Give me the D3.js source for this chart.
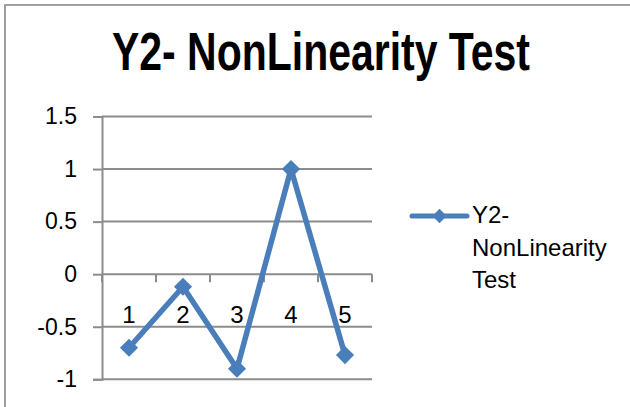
<!DOCTYPE html>
<html>
<head>
<meta charset="utf-8">
<script src="https://cdn.jsdelivr.net/npm/d3@7"></script>
<style>
  html, body { margin: 0; padding: 0; background: #fff; }
  svg { display: block; }
  text { font-family: "Liberation Sans", Arial, sans-serif; fill: #000; }
</style>
</head>
<body>
<svg id="chart" width="630" height="407"></svg>
<script>
// Series data
const categories = ["1", "2", "3", "4", "5"];
const values = [-0.7, -0.12, -0.9, 1.0, -0.77];
const yTicks = [-1, -0.5, 0, 0.5, 1, 1.5];
const seriesName = "Y2- NonLinearity Test";
const legendLines = ["Y2-", "NonLinearity", "Test"];

const svg = d3.select("#chart");
const blue = "#4a7ebb";
const grid = "#8c8c8c";

// Chart frame
svg.append("path")
  .attr("d", "M5,407 V5 H630")
  .attr("fill", "none")
  .attr("stroke", "#a0a0a0")
  .attr("stroke-width", 2);

// Title: bold, squeezed horizontally to a condensed look
const titleWidth = 418, titleCx = 321;
const titleG = svg.append("g");
const title = titleG.append("text")
  .attr("x", 0).attr("y", 0)
  .attr("text-anchor", "middle")
  .attr("font-family", "'Liberation Sans Narrow', 'Arial Narrow', 'Liberation Sans', sans-serif")
  .attr("font-weight", "bold")
  .attr("font-size", 53)
  .text(seriesName);
const natural = title.node().getComputedTextLength();
titleG.attr("transform", `translate(${titleCx},70) scale(${titleWidth / natural},1)`);

const x = d3.scaleBand().domain(categories).range([102, 372]);
const y = d3.scaleLinear().domain([-1, 1.5]).range([379.3, 116.5]);

// Value axis with left tick marks
const yAxis = svg.append("g")
  .attr("transform", "translate(102,0)")
  .call(d3.axisLeft(y).tickValues(yTicks).tickFormat(d => String(d))
    .tickSize(9).tickPadding(16));
yAxis.select(".domain").attr("stroke", grid).attr("stroke-width", 2);
yAxis.selectAll(".tick line").attr("stroke", grid).attr("stroke-width", 2);
yAxis.selectAll(".tick text").attr("font-size", 23).attr("fill", "#000")
  .attr("font-family", "'Liberation Sans', Arial, sans-serif");

// Horizontal gridlines
svg.append("g").selectAll("line")
  .data(yTicks)
  .join("line")
  .attr("x1", 102).attr("x2", 372)
  .attr("y1", d => y(d)).attr("y2", d => y(d))
  .attr("stroke", grid).attr("stroke-width", 2);

// Category axis at zero: tick marks on band edges
const xAxisY = y(0);
svg.append("g").selectAll("line")
  .data(d3.range(categories.length + 1))
  .join("line")
  .attr("x1", i => 102 + i * x.step()).attr("x2", i => 102 + i * x.step())
  .attr("y1", xAxisY).attr("y2", xAxisY + 8)
  .attr("stroke", grid).attr("stroke-width", 2);

const xAxis = svg.append("g")
  .attr("transform", `translate(0,${xAxisY})`)
  .call(d3.axisBottom(x).tickSize(0).tickPadding(32));
xAxis.select(".domain").remove();
xAxis.selectAll(".tick text").attr("font-size", 24).attr("fill", "#000")
  .attr("font-family", "'Liberation Sans', Arial, sans-serif");

// Series line and diamond markers
const line = d3.line()
  .x((d, i) => x(categories[i]) + x.bandwidth() / 2)
  .y(d => y(d));
svg.append("path")
  .datum(values)
  .attr("d", line)
  .attr("fill", "none")
  .attr("stroke", blue)
  .attr("stroke-width", 5.5)
  .attr("stroke-linejoin", "round");

const diamond = d3.symbol().type(d3.symbolDiamond2).size(210);
svg.append("g").selectAll("path")
  .data(values)
  .join("path")
  .attr("transform", (d, i) => `translate(${x(categories[i]) + x.bandwidth() / 2},${y(d)})`)
  .attr("d", diamond)
  .attr("fill", blue);

// Legend
const lg = svg.append("g");
lg.append("line")
  .attr("x1", 412).attr("x2", 467)
  .attr("y1", 216).attr("y2", 216)
  .attr("stroke", blue).attr("stroke-width", 5)
  .attr("stroke-linecap", "round");
lg.append("path")
  .attr("transform", "translate(439.5,216)")
  .attr("d", d3.symbol().type(d3.symbolDiamond2).size(130))
  .attr("fill", blue);
lg.append("text")
  .attr("x", 472).attr("y", 223)
  .attr("font-size", 24)
  .selectAll("tspan")
  .data(legendLines)
  .join("tspan")
  .attr("x", 472)
  .attr("dy", (d, i) => i === 0 ? 0 : 32.5)
  .text(d => d);
</script>
</body>
</html>
